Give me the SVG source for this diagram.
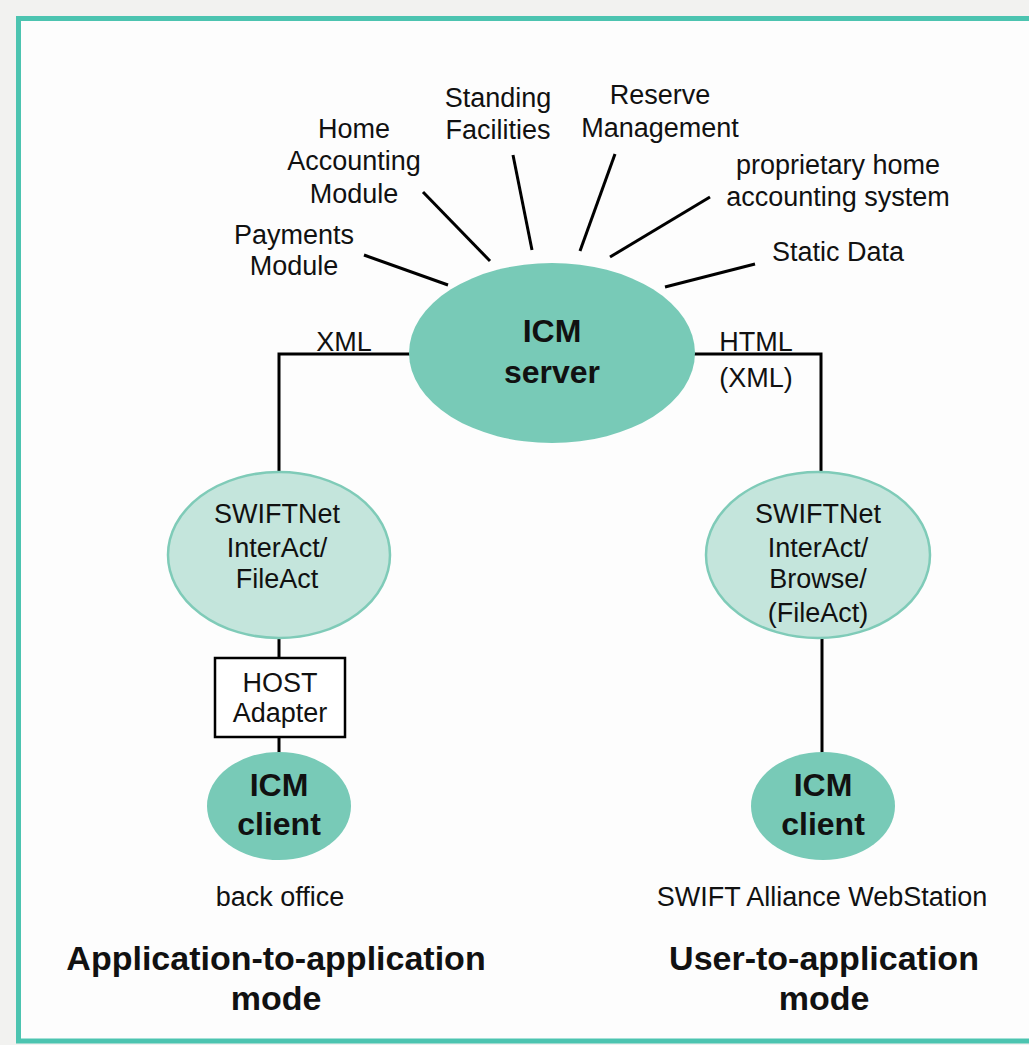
<svg xmlns="http://www.w3.org/2000/svg" width="1029" height="1045" viewBox="0 0 1029 1045">
<style>
.t{font-family:"Liberation Sans",Arial,sans-serif;font-size:27px;fill:#111;text-anchor:middle}
.b{font-family:"Liberation Sans",Arial,sans-serif;font-weight:bold;fill:#111;text-anchor:middle}
.big{font-size:32px}
.mode{font-size:34px}
.dark{fill:#78cab7}
.light{fill:#c4e5dc;stroke:#7fcbb8;stroke-width:2.5}
.ln{stroke:#000;stroke-width:3;fill:none}
</style>
<rect x="0" y="0" width="1029" height="1045" fill="#f2f2f0"/>
<rect x="18.5" y="18.5" width="1100" height="1022.5" fill="#fdfdfd" stroke="#4cc4b0" stroke-width="5"/>

<g id="connectors">
<line class="ln" x1="364" y1="255" x2="448" y2="285"/>
<line class="ln" x1="423" y1="192" x2="490" y2="261"/>
<line class="ln" x1="513" y1="155" x2="532" y2="250"/>
<line class="ln" x1="615" y1="154" x2="580" y2="251"/>
<line class="ln" x1="710" y1="197" x2="610" y2="257"/>
<line class="ln" x1="755" y1="264" x2="665" y2="287"/>
<polyline class="ln" points="411,354 279,354 279,473"/>
<polyline class="ln" points="694,354 821,354 821,473"/>
<line class="ln" x1="279" y1="638" x2="279" y2="658"/>
<line class="ln" x1="279" y1="737" x2="279" y2="753"/>
<line class="ln" x1="822" y1="638" x2="822" y2="753"/>
<text class="t" x="344" y="351">XML</text>
<text class="t" x="756" y="351">HTML</text>
<text class="t" x="756" y="387">(XML)</text>
</g>

<g id="labels">
<text class="t" x="294" y="244">Payments</text>
<text class="t" x="294" y="275">Module</text>
<text class="t" x="354" y="138">Home</text>
<text class="t" x="354" y="170">Accounting</text>
<text class="t" x="354" y="203">Module</text>
<text class="t" x="498" y="107">Standing</text>
<text class="t" x="498" y="139">Facilities</text>
<text class="t" x="660" y="104">Reserve</text>
<text class="t" x="660" y="137">Management</text>
<text class="t" x="838" y="174">proprietary home</text>
<text class="t" x="838" y="206">accounting system</text>
<text class="t" x="838" y="261">Static Data</text>
</g>

<g id="server">
<ellipse class="dark" cx="552" cy="353" rx="143" ry="90"/>
<text class="b big" x="552" y="342">ICM</text>
<text class="b big" x="552" y="383">server</text>
</g>

<g id="swift-left">
<ellipse class="light" cx="279" cy="555" rx="111" ry="83"/>
<text class="t" x="277" y="523">SWIFTNet</text>
<text class="t" x="277" y="557">InterAct/</text>
<text class="t" x="277" y="588">FileAct</text>
</g>

<g id="host-adapter">
<rect x="215" y="658" width="130" height="79" fill="#fff" stroke="#000" stroke-width="2.5"/>
<text class="t" x="280" y="692">HOST</text>
<text class="t" x="280" y="722">Adapter</text>
</g>

<g id="client-left">
<ellipse class="dark" cx="279" cy="806" rx="72" ry="54"/>
<text class="b big" x="279" y="796">ICM</text>
<text class="b big" x="279" y="835">client</text>
</g>

<g id="swift-right">
<ellipse class="light" cx="818" cy="555" rx="112" ry="83"/>
<text class="t" x="818" y="523">SWIFTNet</text>
<text class="t" x="818" y="557">InterAct/</text>
<text class="t" x="818" y="588">Browse/</text>
<text class="t" x="818" y="622">(FileAct)</text>
</g>

<g id="client-right">
<ellipse class="dark" cx="823" cy="806" rx="72" ry="54"/>
<text class="b big" x="823" y="796">ICM</text>
<text class="b big" x="823" y="835">client</text>
</g>

<g id="captions">
<text class="t" x="280" y="906">back office</text>
<text class="t" x="822" y="906">SWIFT Alliance WebStation</text>
<text class="b mode" x="276" y="970">Application-to-application</text>
<text class="b mode" x="276" y="1010">mode</text>
<text class="b mode" x="824" y="970">User-to-application</text>
<text class="b mode" x="824" y="1010">mode</text>
</g>
</svg>
